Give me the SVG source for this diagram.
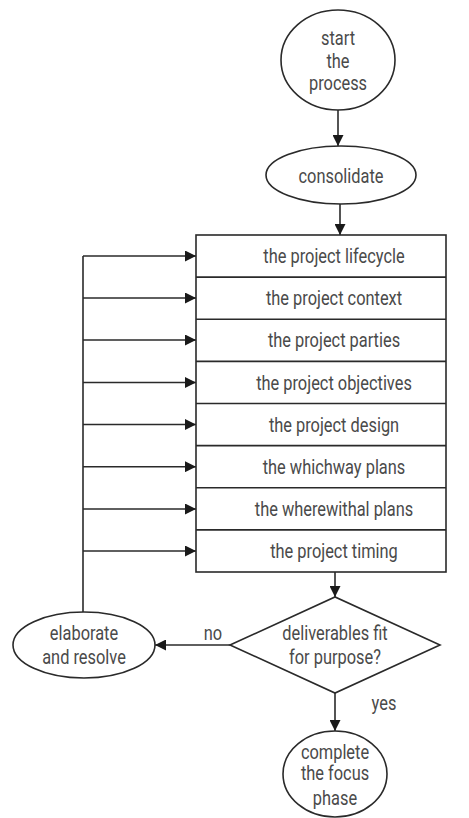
<svg xmlns="http://www.w3.org/2000/svg" width="469" height="818" viewBox="0 0 469 818">
<style>
.s{fill:#fff;stroke:#2a2a2a;stroke-width:1.6}
.c{fill:none;stroke:#2a2a2a;stroke-width:1.6}
text{font-family:"Roboto","Liberation Sans",sans-serif;font-size:20px;fill:#4a4a4a;text-anchor:middle}
</style>
<defs>
<marker id="a" viewBox="0 0 10 10" refX="10" refY="5" markerWidth="11" markerHeight="11" markerUnits="userSpaceOnUse" orient="auto">
<path d="M0,0 L10,5 L0,10 Z" fill="#1a1a1a"/>
</marker>
</defs>
<g id="connectors">
<path class="c" d="M338,110 V146" marker-end="url(#a)"/>
<path class="c" d="M340,204 V235" marker-end="url(#a)"/>
<path class="c" d="M335,572 V597" marker-end="url(#a)"/>
<path class="c" d="M230,645 H155" marker-end="url(#a)"/>
<path class="c" d="M335,693 V731" marker-end="url(#a)"/>
<path class="c" d="M83,612 V256"/>
<path class="c" d="M83,256 H196" marker-end="url(#a)"/>
<path class="c" d="M83,298 H196" marker-end="url(#a)"/>
<path class="c" d="M83,340 H196" marker-end="url(#a)"/>
<path class="c" d="M83,382.5 H196" marker-end="url(#a)"/>
<path class="c" d="M83,424.5 H196" marker-end="url(#a)"/>
<path class="c" d="M83,466.7 H196" marker-end="url(#a)"/>
<path class="c" d="M83,509 H196" marker-end="url(#a)"/>
<path class="c" d="M83,551 H196" marker-end="url(#a)"/>
<text transform="translate(213,640) scale(0.82,1)">no</text>
<text transform="translate(384,710) scale(0.82,1)">yes</text>
</g>
<g id="start">
<ellipse class="s" cx="338" cy="60" rx="57" ry="50"/>
<text transform="translate(338,45) scale(0.82,1)">start</text>
<text transform="translate(338,68) scale(0.82,1)">the</text>
<text transform="translate(338,90) scale(0.82,1)">process</text>
</g>
<g id="consolidate">
<ellipse class="s" cx="341" cy="175" rx="75" ry="29"/>
<text transform="translate(341,183) scale(0.82,1)">consolidate</text>
</g>
<g id="list">
<rect class="s" x="196" y="235" width="250" height="337"/>
<path class="c" d="M196,277.1 H446 M196,319.3 H446 M196,361.4 H446 M196,403.5 H446 M196,445.6 H446 M196,487.8 H446 M196,529.9 H446"/>
<text transform="translate(334,263) scale(0.82,1)">the project lifecycle</text>
<text transform="translate(334,305) scale(0.82,1)">the project context</text>
<text transform="translate(334,347) scale(0.82,1)">the project parties</text>
<text transform="translate(334,389.5) scale(0.82,1)">the project objectives</text>
<text transform="translate(334,431.5) scale(0.82,1)">the project design</text>
<text transform="translate(334,473.7) scale(0.82,1)">the whichway plans</text>
<text transform="translate(334,516) scale(0.82,1)">the wherewithal plans</text>
<text transform="translate(334,558) scale(0.82,1)">the project timing</text>
</g>
<g id="decision">
<polygon class="s" points="230,645 335,597 440,645 335,693"/>
<text transform="translate(335,640) scale(0.82,1)">deliverables fit</text>
<text transform="translate(335,664) scale(0.82,1)">for purpose?</text>
</g>
<g id="elaborate">
<ellipse class="s" cx="84" cy="645" rx="71" ry="33"/>
<text transform="translate(84,640) scale(0.82,1)">elaborate</text>
<text transform="translate(84,664) scale(0.82,1)">and resolve</text>
</g>
<g id="complete">
<ellipse class="s" cx="335" cy="774" rx="52" ry="43"/>
<text transform="translate(335,759) scale(0.82,1)">complete</text>
<text transform="translate(335,780) scale(0.82,1)">the focus</text>
<text transform="translate(335,805) scale(0.82,1)">phase</text>
</g>
</svg>
